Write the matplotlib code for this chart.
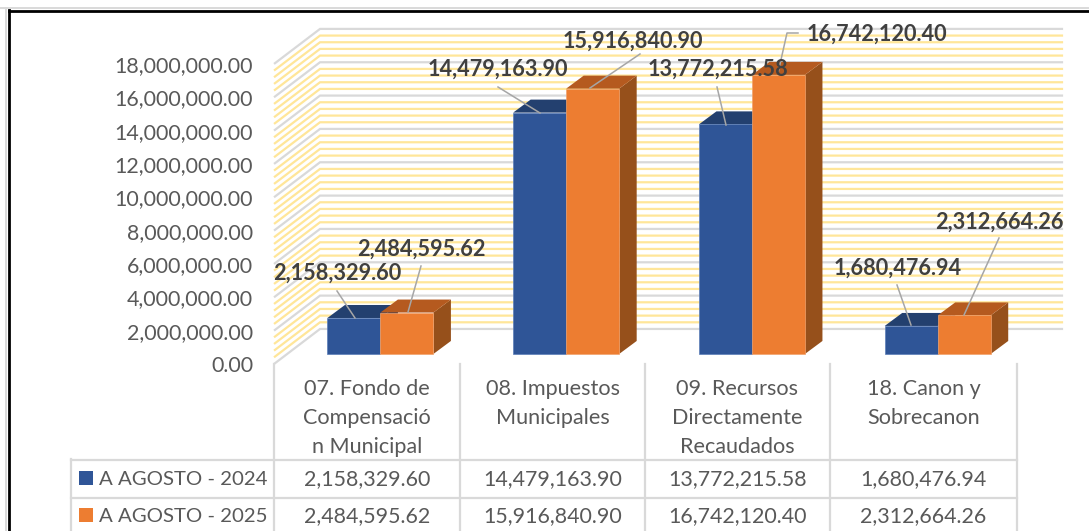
import numpy as np
import matplotlib
matplotlib.use("Agg")
import matplotlib.pyplot as plt
from matplotlib.lines import Line2D
from matplotlib.patches import Polygon, Rectangle
from matplotlib.transforms import Affine2D

categories = ["07. Fondo de\nCompensació\nn Municipal", "08. Impuestos\nMunicipales",
              "09. Recursos\nDirectamente\nRecaudados", "18. Canon y\nSobrecanon"]
series_names = ["A AGOSTO - 2024", "A AGOSTO - 2025"]
values_2024 = [2158329.60, 14479163.90, 13772215.58, 1680476.94]
values_2025 = [2484595.62, 15916840.90, 16742120.40, 2312664.26]

W, H = 1089, 531
plt.rcParams["font.family"] = ["Lato", "DejaVu Sans"]
fig = plt.figure(figsize=(W / 100 + 0.001, H / 100 + 0.001), dpi=100, facecolor="white")
ax = fig.add_axes([274 / W, (H - 364) / H, 743 / W, 300 / H])
ax.set_xlim(-0.5, 3.5)
ax.set_ylim(0, 18e6)
ax.patch.set_visible(False)
for s in ax.spines.values():
    s.set_visible(False)
ax.set_xticks([])
ax.set_yticks(np.arange(0, 18e6 + 1, 2e6))
ax.set_yticklabels([f"{v:,.2f}" for v in np.arange(0, 18e6 + 1, 2e6)])
ax.tick_params(axis="y", length=0, pad=15, labelsize=15.4, labelcolor="#595959")

T = Affine2D().scale(1, -1).translate(0, H)   # top-down pixel layout for annotation furniture
PXX = 743 / 4      # pixels per category
PXY = 300 / 18e6   # pixels per value unit
wall_dx, wall_dy = 46 / PXX, 35 / PXY
front_dx, front_dy = 13.5 / PXX, 10 / PXY
depth_dx, depth_dy = 17.5 / PXX, 13 / PXY
bw = 53 / PXX

GRAY = "#D9D9D9"
YEL = "#FFE699"
# walls: minor lines first, major on top
minor = np.arange(0, 18e6 + 1, 0.4e6)
for i, y in enumerate(minor):
    major = i % 5 == 0
    ax.plot([-0.5, -0.5 + wall_dx, 3.5 + wall_dx], [y, y + wall_dy, y + wall_dy],
            color=GRAY if major else YEL, lw=1.6, clip_on=False, zorder=2 if major else 1,
            solid_joinstyle="miter", solid_capstyle="butt")

styles = [("#2F5597", "#23406F", "#1F3864", "#5B7DB8"), ("#ED7D31", "#B55A1F", "#96501B", "#F2A36D")]
for k, vals in enumerate([values_2024, values_2025]):
    front, top, side, edge = styles[k]
    for c, v in enumerate(vals):
        x0 = c + front_dx - bw + k * bw
        x1 = x0 + bw
        y0, y1 = front_dy, front_dy + v
        ax.add_patch(Polygon([(x1, y0), (x1 + depth_dx, y0 + depth_dy), (x1 + depth_dx, y1 + depth_dy), (x1, y1)],
                             fc=side, ec="none", clip_on=False, zorder=3 + k))
        ax.add_patch(Polygon([(x0, y1), (x1, y1), (x1 + depth_dx, y1 + depth_dy), (x0 + depth_dx, y1 + depth_dy)],
                             fc=top, ec="none", clip_on=False, zorder=3 + k))
    ax.bar(np.arange(4) + front_dx + (k - 0.5) * bw, vals, bw, bottom=front_dy, color=front,
           edgecolor=edge, linewidth=0.5, clip_on=False, zorder=3.5 + k)

# data labels and leader lines (pixel layout)
label_vals = values_2024 + values_2025
label_pos = [(337, 273), (498, 69), (718, 69), (898, 268), (421, 249), (633, 41), (877, 34), (999, 222)]
leaders = [[(337, 291), (355, 318)], [(498, 87), (540, 113)], [(717, 87), (726, 125)], [(897, 285), (911, 325)],
           [(421, 266), (408, 312)], [(640, 54), (590, 88)], [(798, 33), (787, 33), (778, 73)], [(999, 238), (964, 315)]]
for v, p, l in zip(label_vals, label_pos, leaders):
    xs, ys = zip(*l)
    fig.add_artist(Line2D(xs, ys, color="#A6A6A6", lw=1.1, transform=T, zorder=6))
for v, p in zip(label_vals, label_pos):
    fig.text(p[0], p[1], f"{v:,.2f}", transform=T, ha="center", va="center", fontsize=15.6,
             fontweight="bold", color="#404040", zorder=7)

# data table
tcol = "#595959"
col_edges = [274, 460, 645, 830, 1017]
for x in col_edges:
    fig.add_artist(Line2D([x, x], [364, 531], color=GRAY, lw=1.6, transform=T))
fig.add_artist(Line2D([71, 71], [459, 531], color=GRAY, lw=1.6, transform=T))
for y in (460, 498):
    fig.add_artist(Line2D([71, 1017], [y, y], color=GRAY, lw=1.6, transform=T))
for c, name in enumerate(categories):
    cx = (col_edges[c] + col_edges[c + 1]) / 2
    for j, line in enumerate(name.split("\n")):
        fig.text(cx, 389 + 29 * j, line, transform=T, ha="center", va="center", fontsize=15.6, color=tcol)
for r, vals in enumerate([values_2024, values_2025]):
    y = 479 + 37 * r
    fig.add_artist(Rectangle((79, y - 8), 14, 14, fc=styles[r][0], ec="none", transform=T))
    fig.text(99, y, series_names[r], transform=T, ha="left", va="center", fontsize=14.7, color=tcol)
    for c, v in enumerate(vals):
        cx = (col_edges[c] + col_edges[c + 1]) / 2
        fig.text(cx, y, f"{v:,.2f}", transform=T, ha="center", va="center", fontsize=15.4, color=tcol)

# outer border
fig.add_artist(Line2D([0, W], [8, 8], color="#D9D9D9", lw=1.4, transform=T))
fig.add_artist(Line2D([6, 6], [8, H], color="#D9D9D9", lw=1.4, transform=T))
fig.add_artist(Line2D([8.5, W], [10.8, 10.8], color="black", lw=2.0, transform=T))
fig.add_artist(Line2D([8.5, 8.5], [10, H], color="black", lw=2.0, transform=T))

fig.savefig("out.png", dpi=100, facecolor="white")
